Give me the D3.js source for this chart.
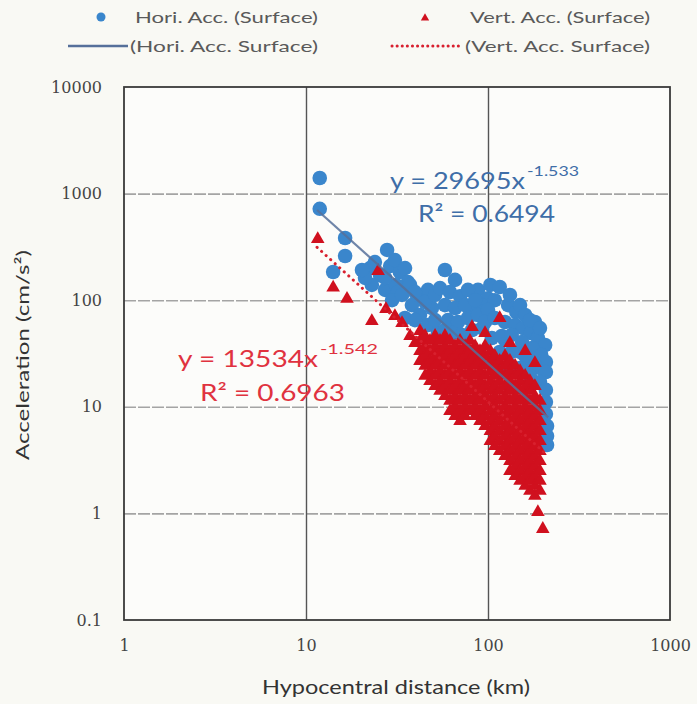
<!DOCTYPE html>
<html><head><meta charset="utf-8">
<script src="https://cdn.jsdelivr.net/npm/d3@7/dist/d3.min.js"></script>
<style>
html,body{margin:0;padding:0;background:#f9f9f4;}
svg{display:block;}
</style></head>
<body>
<svg id="chart" width="697" height="704"></svg>
<script>
// ---------- data ----------
const xTicks = [1, 10, 100, 1000];
const xTickLabels = ["1", "10", "100", "1000"];
const yTicks = [0.1, 1, 10, 100, 1000, 10000];
const yTickLabels = ["0.1", "1", "10", "100", "1000", "10000"];

// Horizontal acceleration (surface): [distance km, acceleration cm/s2]
const horiPoints = [
  [11.9,1400],[11.9,720],[14.1,184],[16.4,383],[16.4,260],[27.9,296],
  [22.5,200],[25.5,172],[29.0,209],[32.8,184],[36.3,148],[23.0,139],[27.2,125],[31.2,139],[21.1,162],
  [23.9,228],[30.8,238],[35.0,200],[20.3,192],[27.2,162],[32.0,119],[37.3,139],
  [29.7,100],[33.7,112],[38.2,90],[42.3,109],[46.8,125],[49.2,84.5],[42.3,72.6],[35.0,68.1],[46.8,58.5],[53.1,49.2],
  [39.7,119],[45.1,96],[51.2,112],[39.7,65],[51.2,65],[58.0,52.5],
  [58.0,192],[65.9,155],[88.1,125],[100,104],[103,139],[92.7,90],[79.6,81],
  [54.5,130],[61.8,119],[70.2,109],[77.6,125],[58.0,90],[65.9,84.5],[74.8,90],[84.9,100],
  [60.3,65],[68.4,62.4],[77.6,68.1],[88.1,72.6],[63.4,49.2],[72.0,47.2],[81.7,52.5],[92.7,54.8],
  [116,133],[109,100],[129,90],[143,77.5],[100,81],[96.3,62.4],[109,68.1],[124,62.4],[141,58.5],
  [132,112],[150,90],[160,72.6],[181,62.4],[124,42.4],[150,32.7],[170,27.5],[193,23.1],[132,24.7],[160,21.2],[116,23.1],
  [156,54.8],[172,49.2],[188,44.2],[206,38.0],[105,44.2],[119,46.2],[135,47.2],[154,40.5],[175,35.6],
  [196,30.6],[208,26.3],[116,32.7],[135,32.7],[160,30.0],[181,24.7],[208,21.2],[150,23.1],[170,19.5],
  [193,17.1],[208,14.4],[208,11.1],[208,8.56],[211,6.61],[211,5.32],[211,4.38],[170,65],[193,54.8]
];

// Vertical acceleration (surface): [distance km, acceleration cm/s2]
const vertPoints = [
  [11.6,383],[14.1,134],[16.8,105],[23.0,65],[24.9,192],
  [27.5,84.5],[30.8,72.6],[33.7,62.4],[37.3,47.2],[39.7,40.5],
  [42.3,52.5],[42.3,42.4],[42.3,34.1],[42.3,27.5],
  [45.1,47.2],[45.1,38.0],[45.1,30.6],[45.1,24.7],[45.1,19.9],
  [48.0,42.4],[48.0,34.1],[48.0,27.5],[48.0,22.1],[48.0,17.8],
  [51.2,47.2],[51.2,38.0],[51.2,30.6],[51.2,24.7],[51.2,19.9],[51.2,16.0],
  [54.5,42.4],[54.5,34.1],[54.5,27.5],[54.5,22.1],[54.5,17.8],[54.5,14.4],
  [58.0,47.2],[58.0,38.0],[58.0,30.6],[58.0,24.7],[58.0,19.9],[58.0,16.0],[58.0,12.9],
  [61.8,42.4],[61.8,34.1],[61.8,27.5],[61.8,22.1],[61.8,17.8],[61.8,14.4],[61.8,11.6],[61.8,9.33],
  [65.9,38.0],[65.9,30.6],[65.9,24.7],[65.9,19.9],[65.9,16.0],[65.9,12.9],[65.9,10.4],[65.9,8.38],
  [70.2,42.4],[70.2,34.1],[70.2,27.5],[70.2,22.1],[70.2,17.8],[70.2,14.4],[70.2,11.6],[70.2,9.33],[70.2,7.52],
  [74.8,38.0],[74.8,30.6],[74.8,24.7],[74.8,19.9],[74.8,16.0],[74.8,12.9],[74.8,10.4],[74.8,8.38],
  [79.6,42.4],[79.6,34.1],[79.6,27.5],[79.6,22.1],[79.6,17.8],[79.6,14.4],[79.6,11.6],[79.6,9.33],
  [84.9,38.0],[84.9,30.6],[84.9,24.7],[84.9,19.9],[84.9,16.0],[84.9,12.9],[84.9,10.4],[84.9,8.38],
  [90.4,34.1],[90.4,27.5],[90.4,22.1],[90.4,17.8],[90.4,14.4],[90.4,11.6],[90.4,9.33],[90.4,7.52],
  [96.3,38.0],[96.3,30.6],[96.3,24.7],[96.3,19.9],[96.3,16.0],[96.3,12.9],[96.3,10.4],[96.3,8.38],[96.3,6.75],
  [103,34.1],[103,27.5],[103,22.1],[103,17.8],[103,14.4],[103,11.6],[103,9.33],[103,7.52],[103,6.06],[103,4.88],
  [109,30.6],[109,24.7],[109,19.9],[109,16.0],[109,12.9],[109,10.4],[109,8.38],[109,6.75],[109,5.44],[109,4.38],
  [116,27.5],[116,22.1],[116,17.8],[116,14.4],[116,11.6],[116,9.33],[116,7.52],[116,6.06],[116,4.88],[116,3.93],
  [124,30.6],[124,24.7],[124,19.9],[124,16.0],[124,12.9],[124,10.4],[124,8.38],[124,6.75],[124,5.44],[124,4.38],[124,3.53],
  [132,27.5],[132,22.1],[132,17.8],[132,14.4],[132,11.6],[132,9.33],[132,7.52],[132,6.06],[132,4.88],[132,3.93],[132,3.17],[132,2.55],
  [141,24.7],[141,19.9],[141,16.0],[141,12.9],[141,10.4],[141,8.38],[141,6.75],[141,5.44],[141,4.38],[141,3.53],[141,2.84],[141,2.29],
  [150,22.1],[150,17.8],[150,14.4],[150,11.6],[150,9.33],[150,7.52],[150,6.06],[150,4.88],[150,3.93],[150,3.17],[150,2.55],[150,2.06],
  [160,19.9],[160,16.0],[160,12.9],[160,10.4],[160,8.38],[160,6.75],[160,5.44],[160,4.38],[160,3.53],[160,2.84],[160,2.29],[160,1.85],
  [170,17.8],[170,14.4],[170,11.6],[170,9.33],[170,7.52],[170,6.06],[170,4.88],[170,3.93],[170,3.17],[170,2.55],[170,2.06],[170,1.66],
  [181,16.0],[181,12.9],[181,10.4],[181,8.38],[181,6.75],[181,5.44],[181,4.38],[181,3.53],[181,2.84],[181,2.29],[181,1.85],[181,1.49],
  [193,11.6],[193,9.33],[193,7.52],[193,6.06],[193,4.88],[193,3.93],[193,3.17],[193,2.55],[193,2.06],[193,1.66],
  [188,1.05],[200,0.73],
  [116,69.5],[96.3,50.3],[132,40.5],[160,34.1],[181,26.3],[81.7,57.3]
];

// Power-law trend lines: coefficient, exponent, distance range
const horiFit = {a: 29695, b: -1.533, range: [11.5, 214]};
const vertFit = {a: 13534, b: -1.542, range: [11.5, 206]};
const horiEq = ["y = 29695x", "-1.533", "R\u00B2 = 0.6494"];
const vertEq = ["y = 13534x", "-1.542", "R\u00B2 = 0.6963"];
const legendLabels = ["Hori. Acc. (Surface)", "Vert. Acc. (Surface)", "(Hori. Acc. Surface)", "(Vert. Acc. Surface)"];
const axisTitles = ["Hypocentral distance (km)", "Acceleration (cm/s\u00B2)"];

// ---------- drawing ----------
const svg = d3.select("#chart");
const L = 124, R = 670, T = 87, B = 620;
const x = d3.scaleLog().domain([1, 1000]).range([L, R]);
const y = d3.scaleLog().domain([0.1, 10000]).range([B, T]);

const blue = "#3a86cc", red = "#d0101e", lineBlue = "#56709a", dotRed = "#d8202e";
const blueText = "#3f6ea8", redText = "#e0323f";
const sans = "Lato, 'Open Sans', sans-serif";
const serif = "'DejaVu Serif', serif";

svg.append("rect").attr("x", L).attr("y", T).attr("width", R - L).attr("height", B - T).attr("fill", "#fcfcfa");

// horizontal gridlines
svg.append("g").attr("transform", `translate(${L},0)`)
  .call(d3.axisLeft(y).tickValues(yTicks.slice(1, -1)).tickSize(-(R - L)).tickFormat(""))
  .call(g => g.select(".domain").remove())
  .call(g => g.selectAll("line").attr("stroke", "#a4a4a4").attr("stroke-width", 1.6).attr("stroke-dasharray", "12,2"));
// vertical gridlines
svg.append("g").attr("transform", `translate(0,${B})`)
  .call(d3.axisBottom(x).tickValues(xTicks.slice(1, -1)).tickSize(-(B - T)).tickFormat(""))
  .call(g => g.select(".domain").remove())
  .call(g => g.selectAll("line").attr("stroke", "#555").attr("stroke-width", 1.4));

// border
svg.append("rect").attr("x", L).attr("y", T).attr("width", R - L).attr("height", B - T)
  .attr("fill", "none").attr("stroke", "#3a3a3a").attr("stroke-width", 1.8);

// tick labels
svg.append("g").attr("transform", `translate(0,${B})`)
  .call(d3.axisBottom(x).tickValues(xTicks).tickSize(0).tickPadding(20).tickFormat((d, i) => xTickLabels[i]))
  .call(g => g.select(".domain").remove())
  .call(g => g.selectAll("text").attr("font-family", serif).attr("font-size", 16).attr("fill", "#444"));
svg.append("g").attr("transform", `translate(${L},0)`)
  .call(d3.axisLeft(y).tickValues(yTicks).tickSize(0).tickPadding(22).tickFormat((d, i) => yTickLabels[i]))
  .call(g => g.select(".domain").remove())
  .call(g => g.selectAll("text").attr("font-family", serif).attr("font-size", 16).attr("fill", "#444"));

// axis titles
svg.append("text").attr("x", 262).attr("y", 694)
  .attr("textLength", 268).attr("lengthAdjust", "spacingAndGlyphs")
  .attr("font-family", sans).attr("font-size", 20).attr("fill", "#333").text(axisTitles[0]);
svg.append("text").attr("transform", "translate(29,460) rotate(-90)")
  .attr("textLength", 210).attr("lengthAdjust", "spacingAndGlyphs")
  .attr("font-family", sans).attr("font-size", 18).attr("fill", "#333").text(axisTitles[1]);

// points
const plot = svg.append("g");
plot.selectAll("circle.h").data(horiPoints).join("circle").attr("class", "h")
  .attr("cx", d => x(d[0])).attr("cy", d => y(d[1])).attr("r", 7.3).attr("fill", blue);
const tri = d3.symbol().type(d3.symbolTriangle).size(80);
plot.selectAll("path.v").data(vertPoints).join("path").attr("class", "v")
  .attr("d", tri).attr("transform", d => `translate(${x(d[0])},${y(d[1]) + 1})`).attr("fill", red);

// trend lines
const line = d3.line().x(d => x(d[0])).y(d => y(d[1]));
const fitPts = f => f.range.map(d => [d, f.a * Math.pow(d, f.b)]);
svg.append("path").attr("d", line(fitPts(horiFit))).attr("stroke", lineBlue).attr("stroke-width", 2.2).attr("stroke-opacity", 0.85).attr("fill", "none");
svg.append("path").attr("d", line(fitPts(vertFit))).attr("stroke", dotRed).attr("stroke-width", 3)
  .attr("stroke-dasharray", "0.1,6").attr("stroke-linecap", "round").attr("fill", "none");

// equations
function eq(xp, yp, parts, color, w1, w2, rx, ry, w3) {
  svg.append("text").attr("x", xp).attr("y", yp).attr("font-family", sans).attr("font-size", 23).attr("fill", color)
    .attr("textLength", w1).attr("lengthAdjust", "spacingAndGlyphs").text(parts[0]);
  svg.append("text").attr("x", xp + w1 + 2).attr("y", yp - 13).attr("font-family", sans).attr("font-size", 14).attr("fill", color)
    .attr("textLength", w2).attr("lengthAdjust", "spacingAndGlyphs").text(parts[1]);
  svg.append("text").attr("x", rx).attr("y", ry).attr("font-family", sans).attr("font-size", 23).attr("fill", color)
    .attr("textLength", w3).attr("lengthAdjust", "spacingAndGlyphs").text(parts[2]);
}
eq(390, 189, horiEq, blueText, 135, 52, 418, 222, 137);
eq(178, 367, vertEq, redText, 140, 58, 200, 401, 145);

// legend
const lg = svg.append("g").attr("font-family", sans).attr("font-size", 16).attr("fill", "#5a5a5a");
lg.append("circle").attr("cx", 101).attr("cy", 17).attr("r", 4.5).attr("fill", blue);
lg.append("text").attr("x", 135).attr("y", 23).attr("textLength", 183).attr("lengthAdjust", "spacingAndGlyphs").text(legendLabels[0]);
lg.append("path").attr("d", d3.symbol().type(d3.symbolTriangle).size(30)).attr("transform", "translate(425,18)").attr("fill", red);
lg.append("text").attr("x", 470).attr("y", 23).attr("textLength", 180).attr("lengthAdjust", "spacingAndGlyphs").text(legendLabels[1]);
lg.append("line").attr("x1", 68).attr("x2", 128).attr("y1", 46).attr("y2", 46).attr("stroke", lineBlue).attr("stroke-width", 2.5);
lg.append("text").attr("x", 130).attr("y", 52).attr("textLength", 188).attr("lengthAdjust", "spacingAndGlyphs").text(legendLabels[2]);
lg.append("line").attr("x1", 392).attr("x2", 462).attr("y1", 46).attr("y2", 46).attr("stroke", dotRed).attr("stroke-width", 3)
  .attr("stroke-dasharray", "0.1,5").attr("stroke-linecap", "round");
lg.append("text").attr("x", 465).attr("y", 52).attr("textLength", 185).attr("lengthAdjust", "spacingAndGlyphs").text(legendLabels[3]);
</script>
</body></html>
